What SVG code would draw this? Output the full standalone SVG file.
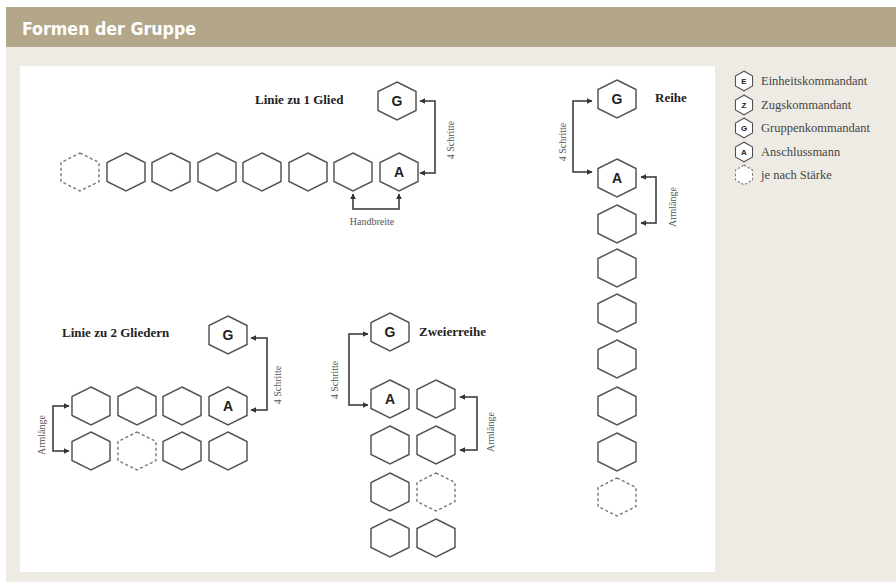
<svg xmlns="http://www.w3.org/2000/svg" xmlns:xlink="http://www.w3.org/1999/xlink" width="896" height="582" viewBox="0 0 896 582">
<defs>
<path id="hx" d="M0,-19 L19,-9.5 L19,9.5 L0,19 L-19,9.5 L-19,-9.5 Z"/>
<marker id="ah" viewBox="0 0 10 10" refX="9" refY="5" markerWidth="6" markerHeight="6" markerUnits="userSpaceOnUse" orient="auto-start-reverse">
<path d="M0,0 L10,5 L0,10 Z" fill="#333"/>
</marker>
</defs>
<style>
.h{fill:#fff;stroke:#555;stroke-width:1.5}
.d{fill:#fff;stroke:#777;stroke-width:1.4;stroke-dasharray:3 2.5}
.lt{font-family:"Liberation Sans",Arial,sans-serif;font-weight:bold;font-size:14px;fill:#222;text-anchor:middle;dominant-baseline:central}
.lg{font-family:"Liberation Sans",Arial,sans-serif;font-weight:bold;font-size:8px;fill:#222;text-anchor:middle;dominant-baseline:central}
.ti{font-family:"Liberation Serif","Times New Roman",serif;font-weight:bold;font-size:13px;fill:#222}
.sm{font-family:"Liberation Serif","Times New Roman",serif;font-size:10px;fill:#555}
.rt{font-family:"Liberation Serif","Times New Roman",serif;font-size:10px;fill:#555;text-anchor:middle;dominant-baseline:central}
.le{font-family:"Liberation Serif","Times New Roman",serif;font-size:12.5px;fill:#444}
.c{fill:none;stroke:#333;stroke-width:1.5;marker-start:url(#ah);marker-end:url(#ah)}
</style>
<rect x="0" y="0" width="896" height="582" fill="#fff"/>
<rect x="6" y="47" width="890" height="535" fill="#eeebe4"/>
<rect x="6" y="7" width="890" height="40" fill="#b4a789"/>
<text x="22" y="35" font-family="'DejaVu Sans Condensed','Liberation Sans Narrow','Roboto',sans-serif" font-weight="bold" font-size="18" fill="#fff" textLength="174" lengthAdjust="spacingAndGlyphs">Formen der Gruppe</text>
<rect x="20" y="66" width="695" height="506" fill="#fff"/>

<g id="connectors">
<path class="c" d="M420,101 H435 V173 H420"/>
<path class="c" d="M353,194 V209 H399 V194"/>
<path class="c" d="M592,101 H573 V172 H592"/>
<path class="c" d="M641,177 H656 V223 H641"/>
<path class="c" d="M251,338 H267 V410 H251"/>
<path class="c" d="M69,406 H53 V451 H69"/>
<path class="c" d="M368,334 H349 V405 H368"/>
<path class="c" d="M460,397 H477 V450 H460"/>
</g>

<g id="labels">
<text class="ti" x="255" y="104">Linie zu 1 Glied</text>
<text class="ti" x="655" y="102">Reihe</text>
<text class="ti" x="62" y="337">Linie zu 2 Gliedern</text>
<text class="ti" x="419" y="336">Zweierreihe</text>
<text class="sm" x="372" y="225" text-anchor="middle">Handbreite</text>
<text class="rt" transform="translate(450,140) rotate(-90)">4 Schritte</text>
<text class="rt" transform="translate(562,142) rotate(-90)">4 Schritte</text>
<text class="rt" transform="translate(672,207) rotate(-90)">Armlänge</text>
<text class="rt" transform="translate(277,385) rotate(-90)">4 Schritte</text>
<text class="rt" transform="translate(41,435) rotate(-90)">Armlänge</text>
<text class="rt" transform="translate(334,380) rotate(-90)">4 Schritte</text>
<text class="rt" transform="translate(490,432) rotate(-90)">Armlänge</text>
</g>

<g id="linie1">
<g id="l1-g"><use href="#hx" class="h" x="397" y="101"/><text class="lt" x="397" y="101">G</text></g>
<g id="l1-x"><use href="#hx" class="d" x="80" y="172"/></g>
<g id="l1-1"><use href="#hx" class="h" x="126" y="172"/></g>
<g id="l1-2"><use href="#hx" class="h" x="171" y="172"/></g>
<g id="l1-3"><use href="#hx" class="h" x="217" y="172"/></g>
<g id="l1-4"><use href="#hx" class="h" x="262" y="172"/></g>
<g id="l1-5"><use href="#hx" class="h" x="308" y="172"/></g>
<g id="l1-6"><use href="#hx" class="h" x="353" y="172"/></g>
<g id="l1-a"><use href="#hx" class="h" x="399" y="172"/><text class="lt" x="399" y="172">A</text></g>
</g>

<g id="reihe">
<g id="r-g"><use href="#hx" class="h" x="617" y="99"/><text class="lt" x="617" y="99">G</text></g>
<g id="r-a"><use href="#hx" class="h" x="617" y="178"/><text class="lt" x="617" y="178">A</text></g>
<g id="r-1"><use href="#hx" class="h" x="617" y="224"/></g>
<g id="r-2"><use href="#hx" class="h" x="617" y="268"/></g>
<g id="r-3"><use href="#hx" class="h" x="617" y="313"/></g>
<g id="r-4"><use href="#hx" class="h" x="617" y="359"/></g>
<g id="r-5"><use href="#hx" class="h" x="617" y="406"/></g>
<g id="r-6"><use href="#hx" class="h" x="617" y="452"/></g>
<g id="r-x"><use href="#hx" class="d" x="617" y="497"/></g>
</g>

<g id="linie2">
<g id="l2-g"><use href="#hx" class="h" x="228" y="335"/><text class="lt" x="228" y="335">G</text></g>
<g id="l2-11"><use href="#hx" class="h" x="91" y="406"/></g>
<g id="l2-12"><use href="#hx" class="h" x="137" y="406"/></g>
<g id="l2-13"><use href="#hx" class="h" x="182" y="406"/></g>
<g id="l2-a"><use href="#hx" class="h" x="228" y="406"/><text class="lt" x="228" y="406">A</text></g>
<g id="l2-21"><use href="#hx" class="h" x="91" y="451"/></g>
<g id="l2-x"><use href="#hx" class="d" x="137" y="451"/></g>
<g id="l2-23"><use href="#hx" class="h" x="182" y="451"/></g>
<g id="l2-24"><use href="#hx" class="h" x="228" y="451"/></g>
</g>

<g id="zweier">
<g id="z-g"><use href="#hx" class="h" x="390" y="332"/><text class="lt" x="390" y="332">G</text></g>
<g id="z-a"><use href="#hx" class="h" x="390" y="399"/><text class="lt" x="390" y="399">A</text></g>
<g id="z-12"><use href="#hx" class="h" x="436" y="399"/></g>
<g id="z-21"><use href="#hx" class="h" x="390" y="445"/></g>
<g id="z-22"><use href="#hx" class="h" x="436" y="445"/></g>
<g id="z-31"><use href="#hx" class="h" x="390" y="492"/></g>
<g id="z-x"><use href="#hx" class="d" x="436" y="492"/></g>
<g id="z-41"><use href="#hx" class="h" x="390" y="538"/></g>
<g id="z-42"><use href="#hx" class="h" x="436" y="538"/></g>
</g>

<g id="legend">
<g id="lg-e"><use href="#hx" class="h" transform="translate(744,81) scale(0.45,0.52)" style="stroke-width:2.4"/><text class="lg" x="744" y="81">E</text><text class="le" x="761" y="85">Einheitskommandant</text></g>
<g id="lg-z"><use href="#hx" class="h" transform="translate(744,105) scale(0.45,0.52)" style="stroke-width:2.4"/><text class="lg" x="744" y="105">Z</text><text class="le" x="761" y="109">Zugskommandant</text></g>
<g id="lg-g"><use href="#hx" class="h" transform="translate(744,128) scale(0.45,0.52)" style="stroke-width:2.4"/><text class="lg" x="744" y="128">G</text><text class="le" x="761" y="132">Gruppenkommandant</text></g>
<g id="lg-a"><use href="#hx" class="h" transform="translate(744,152) scale(0.45,0.52)" style="stroke-width:2.4"/><text class="lg" x="744" y="152">A</text><text class="le" x="761" y="156">Anschlussmann</text></g>
<g id="lg-x"><use href="#hx" class="d" transform="translate(744,175) scale(0.45,0.52)" style="stroke-width:2.2;stroke-dasharray:5 4"/><text class="le" x="761" y="179">je nach Stärke</text></g>
</g>
</svg>
